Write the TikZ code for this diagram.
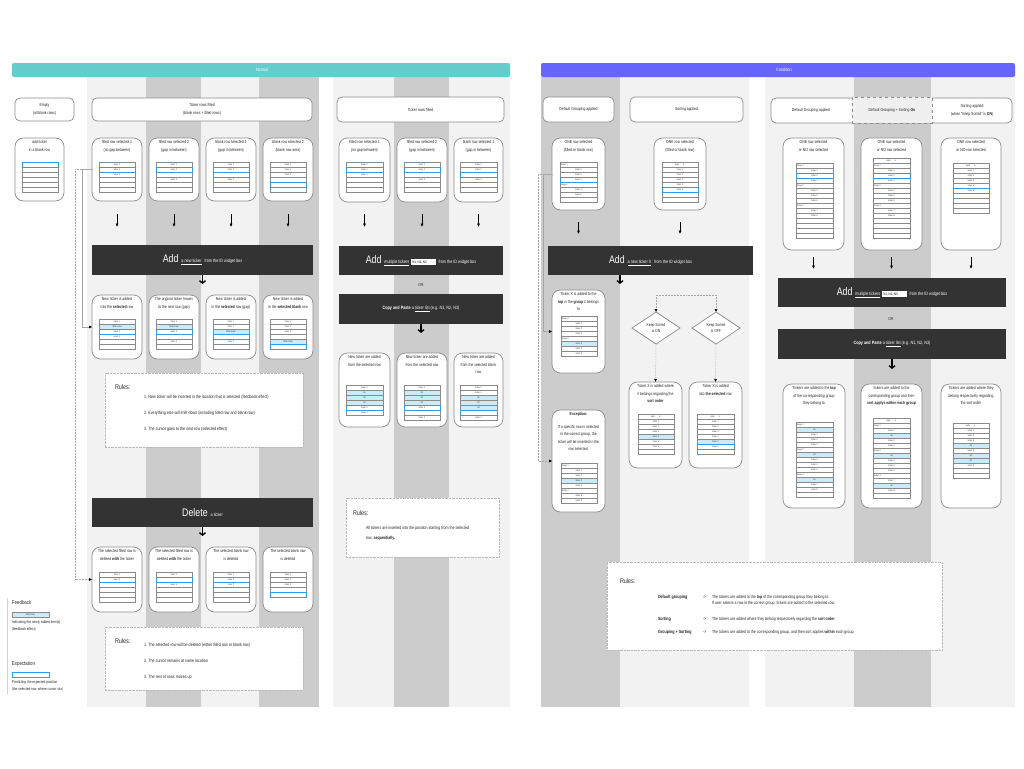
\documentclass[tikz,border=0pt]{standalone}
\usepackage{fontspec}
\setmainfont{Liberation Sans}[FakeStretch=0.8]
\newfontfamily\symfont{DejaVu Sans}
\usetikzlibrary{arrows.meta,calc,shapes.geometric}
\pgfdeclarelayer{fg}
\pgfsetlayers{main,fg}

\definecolor{hdrteal}{HTML}{66CCCC}
\definecolor{hdrviolet}{HTML}{6666FF}
\definecolor{stripelt}{HTML}{F2F2F2}
\definecolor{stripedk}{HTML}{CCCCCC}
\definecolor{barbg}{HTML}{333333}
\definecolor{cardline}{HTML}{8C8C8C}
\definecolor{rowline}{HTML}{8A8A8A}
\definecolor{selblue}{HTML}{2E9BF0}
\definecolor{newcyan}{HTML}{CCEBFA}
\definecolor{txt}{HTML}{262626}

\newcommand\fsz[2]{\fontsize{#1}{#2}\selectfont}
\newcommand\dn{{\symfont ↓}}
\newcommand\sorthdr{Ag\%\hspace{4pt}\dn}
\newcommand\bigword[1]{{\fsz{11}{11}#1}}
\newcommand\idbox{{\setlength\fboxsep{1.1pt}\colorbox{white}{\makebox[22pt][l]{\textcolor{black}{\fsz{3.6}{4}N1, N2, N3}}}}}

% mini ticker list: name, x, y, width, rows given as kind/label
% kinds: t ticker, b blank, s selected, n newly added, g group, h sort header
\newcommand\tickertable[5]{%
  \pgfmathsetmacro\tblw{#4-1.5}%
  \foreach \ty/\tx [count=\i] in {#5}{%
    \node[row, row\ty, text width=\tblw pt, anchor=north west] (#1-\i) at (#2,#3+5*\i-5) {\tx};
  }%
  \begin{pgfonlayer}{fg}%
    \foreach \ty/\tx [count=\i] in {#5}{%
      \if s\ty \draw[selrow] (#1-\i.north west) rectangle (#1-\i.south east);\fi
    }%
  \end{pgfonlayer}%
}

% rounded scenario card with its caption: name, x, y, width, height, caption
\newcommand\scard[6]{%
  \node[card, minimum width=#4, minimum height=#5, anchor=north west] (#1) at (#2,#3) {};
  \node[cardtext, anchor=north] (#1-txt) at ($(#1.north)+(0,2.3)$) {#6};
}

\begin{document}
\begin{tikzpicture}[x=1pt,y=-1pt,
  every node/.style={inner sep=0pt, outer sep=0pt},
  hdrbox/.style={draw=cardline, line width=0.7pt, rounded corners=5pt, fill=white, align=center, font=\fsz{4.3}{8}, text=txt},
  card/.style={draw=cardline, line width=0.7pt, rounded corners=8.5pt, fill=white},
  cardtext/.style={align=center, font=\fsz{4.3}{7.6}, text=txt},
  row/.style={draw=rowline, line width=0.3pt, fill=white, minimum height=5pt, inner xsep=0.75pt, align=center, font=\fsz{2.3}{2.4}, text=txt, text height=1.6pt, text depth=0.45pt},
  rowt/.style={}, rows/.style={}, rowb/.style={}, rowh/.style={},
  rown/.style={fill=newcyan},
  rowg/.style={align=left},
  selrow/.style={draw=selblue, line width=0.9pt},
  actbar/.style={fill=barbg, text=white, font=\fsz{4.7}{5}},
  rulesbox/.style={draw=gray!55, line width=0.4pt, densely dotted, fill=white},
  rulestitle/.style={font=\fsz{6.8}{7}, text=txt, anchor=west},
  ruleitem/.style={font=\fsz{4.6}{6}, text=txt, anchor=west, align=left},
  rulename/.style={font=\fsz{4.6}{6}\bfseries, text=txt, anchor=west},
  legendtitle/.style={font=\fsz{5.5}{6}, text=txt, anchor=west},
  legendtext/.style={font=\fsz{4}{7}, text=txt, anchor=north west, align=left},
  cardarrow/.style={line width=0.9pt, -{Latex[length=3.5pt,width=3.2pt]}},
  bararrow/.style={line width=1.3pt, -{Straight Barb[length=2.5pt,width=6pt]}},
  link/.style={draw=gray!70, line width=0.5pt, -{Latex[length=3pt,width=3pt,color=black]}},
  linkdot/.style={link, densely dotted},
  decision/.style={diamond, draw=cardline, line width=0.7pt, fill=white, minimum width=48pt, minimum height=32pt, align=center, font=\fsz{4.2}{6.5}, text=txt},
  orword/.style={font=\fsz{4.2}{5}, text=txt},
]
\useasboundingbox (0,0) rectangle (1024,768);
\fill[white] (0,0) rectangle (1024,768);

% ---------- column stripes ----------
\foreach \xa/\xb/\cl in {87/146/stripelt,146/201/stripedk,201/259/stripelt,259/319/stripedk,
  333/394/stripelt,394/449/stripedk,449/510/stripelt,
  541/620/stripedk,620/749/stripelt,
  765/854/stripelt,854/931/stripedk,931/1015/stripelt}
  \fill[\cl] (\xa,77) rectangle (\xb,707);

% ---------- section headers ----------
\node[fill=hdrteal, rounded corners=2pt, minimum width=498pt, minimum height=14pt, anchor=north west] (hNormal) at (12,63) {};
\node[text=white, font=\fsz{4.6}{5}] (hNormal-txt) at (262,70) {Normal};
\node[fill=hdrviolet, rounded corners=2pt, minimum width=474pt, minimum height=14pt, anchor=north west] (hCondition) at (541,63) {};
\node[text=white, font=\fsz{4.6}{5}] (hCondition-txt) at (784,70) {Condition};

% =================== NORMAL ===================
\node[hdrbox, minimum width=59pt, minimum height=23pt, anchor=north west] (hEmpty) at (15,98) {Empty\\(all blank rows)};
\node[hdrbox, minimum width=220pt, minimum height=23pt, anchor=north west] (hFilled) at (92,98) {Ticker rows filled\\(blank rows + filled rows)};

\scard{e0}{15}{138}{49}{63}{add ticker\\in a blank row}
\tickertable{e0r}{22}{162}{36}{s/{}, b/{}, b/{}, b/{}, b/{}, b/{}}

\scard{a1}{92}{138}{50}{63}{filled row selected 1\\(no gap between)}
\tickertable{a1r}{99}{162}{36}{t/ticker 1, s/ticker 2, t/ticker 3, b/{}, b/{}, b/{}}
\scard{a2}{149}{138}{50}{63}{filled row selected 2\\(gap in between)}
\tickertable{a2r}{156}{162}{36}{t/ticker 1, s/ticker 2, b/{}, t/ticker 3, b/{}, b/{}}
\scard{a3}{206}{138}{50}{63}{blank row selected 1\\(gap in between)}
\tickertable{a3r}{213}{162}{36}{t/ticker 1, t/ticker 2, s/{}, t/ticker 3, b/{}, b/{}}
\scard{a4}{263}{138}{50}{63}{blank row selected 2\\(blank row area)}
\tickertable{a4r}{270}{162}{36}{t/ticker 1, t/ticker 2, t/ticker 3, b/{}, s/{}, b/{}}

\foreach \n in {a1,a2,a3,a4}
  \draw[cardarrow] ($(\n.south)+(0,13)$) -- ($(\n.south)+(0,26)$);

\node[actbar, minimum width=221pt, minimum height=30pt, anchor=north west] (addN) at (92,245)
  {\bigword{Add}\hspace{3pt}\underline{a new ticker}\hspace{2pt} from the ID widget box};
\draw[bararrow] (addN.south) -- ($(addN.south)+(0,9)$);

\scard{b1}{92}{295}{50}{64}{New ticker is added\\into the \textbf{selected} row}
\tickertable{b1r}{99}{319}{36}{t/ticker 1, n/NEW ticker, s/ticker 2, t/ticker 3, b/{}, b/{}}
\scard{b2}{149}{295}{50}{64}{The original ticker moves\\to the next row (gap)}
\tickertable{b2r}{156}{319}{36}{t/ticker 1, n/NEW ticker, s/ticker 2, b/{}, t/ticker 3, b/{}}
\scard{b3}{206}{295}{50}{64}{New ticker is added\\in the \textbf{selected} row (gap)}
\tickertable{b3r}{213}{319}{36}{t/ticker 1, t/ticker 2, n/NEW ticker, s/{}, t/ticker 3, b/{}}
\scard{b4}{263}{295}{50}{64}{New ticker is added\\in the \textbf{selected blank} row}
\tickertable{b4r}{270}{319}{36}{t/ticker 1, t/ticker 2, t/ticker 3, b/{}, n/NEW ticker, s/{}}

\node[rulesbox, minimum width=198pt, minimum height=74pt, anchor=north west] (rules1) at (105,373) {};
\node[rulestitle] (rules1-h) at (115,387) {Rules:};
\node[ruleitem] (rules1-a) at (144,397) {1. New ticker will be inserted in the location that is selected (feedback effect)};
\node[ruleitem] (rules1-b) at (144,413) {2. Everything else will shift down (including filled row and blank row)};
\node[ruleitem] (rules1-c) at (144,429) {3. The cursor goes to the next row (selected effect)};

\node[actbar, minimum width=221pt, minimum height=29pt, anchor=north west] (delN) at (92,498)
  {\bigword{Delete}\hspace{3pt}a ticker};
\draw[bararrow] (delN.south) -- ($(delN.south)+(0,9)$);

\scard{d1}{92}{547}{50}{65}{The selected filled row is\\deleted \textbf{with} the ticker}
\tickertable{d1r}{99}{572}{36}{t/ticker 1, s/ticker 3, b/{}, b/{}, b/{}, b/{}}
\scard{d2}{149}{547}{50}{65}{The selected filled row is\\deleted \textbf{with} the ticker}
\tickertable{d2r}{156}{572}{36}{t/ticker 1, s/{}, t/ticker 3, b/{}, b/{}, b/{}}
\scard{d3}{206}{547}{50}{65}{The selected blank row\\is deleted}
\tickertable{d3r}{213}{572}{36}{t/ticker 1, t/ticker 2, s/ticker 3, b/{}, b/{}, b/{}}
\scard{d4}{263}{547}{50}{65}{The selected blank row\\is deleted}
\tickertable{d4r}{270}{572}{36}{t/ticker 1, t/ticker 2, t/ticker 3, b/{}, s/{}}

\node[rulesbox, minimum width=198pt, minimum height=63pt, anchor=north west] (rules2) at (105,627) {};
\node[rulestitle] (rules2-h) at (115,641) {Rules:};
\node[ruleitem] (rules2-a) at (144,645) {1. The selected row will be deleted (either filled row or blank row)};
\node[ruleitem] (rules2-b) at (144,661) {2. The cursor remains at same location};
\node[ruleitem] (rules2-c) at (144,677) {3. The rest of rows moves up};

% links from the first scenario to its results
\coordinate (k1) at (82,0);
\coordinate (k2) at (75,0);
\draw[link] (a1.west) -- (a1.west -| k1) -- (b1.west -| k1) -- (b1.west);
\draw[linkdot] (a1.west) -- (a1.west -| k2) -- (d1.west -| k2) -- (d1.west);

% legend
\draw[gray!35, line width=0.5pt] (7,598) -- (7,694);
\node[legendtitle] (lgFeed) at (12,603) {Feedback};
\node[row, rown, minimum width=37pt, anchor=north west] (lgNew) at (12,612) {NEW ticker};
\node[legendtext] (lgFeed-txt) at (12,621) {Indicating the newly added item(s)\\(feedback effect)};
\node[legendtitle] (lgExp) at (12,664) {Expectation};
\node[row, minimum width=37pt, anchor=north west] (lgSel) at (12,672) {};
\draw[selrow] (lgSel.north west) rectangle (lgSel.south east);
\node[legendtext] (lgExp-txt) at (12,681) {Predicting the expected position\\(the selected row, where cursor sits)};

% =================== NORMAL, multiple tickers ===================
\node[hdrbox, minimum width=167pt, minimum height=25pt, anchor=north west] (hMulti) at (337,97) {Ticker rows filled};

\scard{m1}{339}{138}{51}{64}{filled row selected 1\\(no gap between)}
\tickertable{m1r}{346}{162}{37}{t/ticker 1, s/ticker 2, t/ticker 3, b/{}, b/{}, b/{}}
\scard{m2}{397}{138}{50}{64}{filled row selected 2\\(gap in between)}
\tickertable{m2r}{404}{162}{36}{t/ticker 1, s/ticker 2, b/{}, t/ticker 3, b/{}, b/{}}
\scard{m3}{454}{138}{49}{64}{blank row selected 1\\(gap in between)}
\tickertable{m3r}{460}{162}{37}{t/ticker 1, t/ticker 2, s/{}, t/ticker 3, b/{}, b/{}}
\foreach \n in {m1,m2,m3}
  \draw[cardarrow] ($(\n.south)+(0,12)$) -- ($(\n.south)+(0,25)$);

\node[actbar, minimum width=164pt, minimum height=29pt, anchor=north west] (addM) at (339,246)
  {\bigword{Add}\hspace{3pt}\underline{multiple tickers}\hspace{2pt}\idbox\hspace{2pt} from the ID widget box};
\node[orword] (orM) at (421,285) {OR};
\node[actbar, minimum width=164pt, minimum height=30pt, anchor=north west] (copyM) at (339,294)
  {\textbf{Copy and Paste} a \underline{ticker list} (e.g. N1, N2, N3)};
\draw[bararrow] (copyM.south) -- ($(copyM.south)+(0,9)$);

\scard{r1}{339}{353}{51}{74}{New ticker are added\\from the selected row}
\tickertable{r1r}{346}{385}{37}{t/ticker 1, n/N1, n/N2, n/N3, s/ticker 2, t/ticker 3}
\scard{r2}{397}{353}{50}{74}{New ticker are added\\from the selected row}
\tickertable{r2r}{404}{385}{36}{t/ticker 1, n/N1, n/N2, n/N3, s/ticker 2, b/{}, t/ticker 3}
\scard{r3}{454}{353}{49}{74}{New ticker are added\\from the selected blank\\row}
\tickertable{r3r}{460}{385}{37}{t/ticker 1, t/ticker 2, n/N1, n/N2, n/N3, s/{}, t/ticker 3}

\node[rulesbox, minimum width=153pt, minimum height=59pt, anchor=north west] (rules3) at (346,498) {};
\node[rulestitle] (rules3-h) at (353,513) {Rules:};
\node[ruleitem, font=\fsz{4.5}{10}] (rules3-a) at (366,533) {All tickers are inserted into the position starting from the selected\\row, \textbf{sequentially.}};

% =================== CONDITION, single ticker ===================
\node[hdrbox, minimum width=71pt, minimum height=25pt, anchor=north west] (hGroup) at (543,97) {Default Grouping applied};
\node[hdrbox, minimum width=113pt, minimum height=25pt, anchor=north west] (hSort) at (630,97) {Sorting applied};

\scard{g1}{552}{138}{53}{72}{ONE row selected\\(filled or blank row)}
\tickertable{g1r}{560}{162}{37}{g/Group 1, t/ticker 1, t/ticker 2, s/ticker 3, g/Group 2, t/ticker 4, t/ticker 5, b/{}}
\scard{s1}{654}{138}{52}{72}{ONE row selected\\(filled or blank row)}
\tickertable{s1r}{662}{162}{36}{h/\sorthdr, t/ticker 1, t/ticker 2, t/ticker 3, t/ticker 4, s/ticker 5, b/{}, b/{}}
\foreach \n in {g1,s1}
  \draw[cardarrow] ($(\n.south)+(0,12)$) -- ($(\n.south)+(0,24)$);

\node[actbar, minimum width=205pt, minimum height=29pt, anchor=north west] (addG) at (548,246)
  {\bigword{Add}\hspace{3pt}\underline{a new ticker X}\hspace{2pt} from the ID widget box};
\draw[bararrow] ($(addG.south west)+(72,0)$) -- ($(addG.south west)+(72,9)$);

\scard{g2}{552}{290}{53}{83}{Ticker X is added to the\\\textbf{top} in the \textbf{group} it belongs\\to}
\tickertable{g2r}{561}{316}{36}{g/Group 1, t/ticker 1, t/ticker 2, t/ticker 3, g/Group 2, n/ticker X, t/ticker 4, t/ticker 5}
\scard{ex}{552}{410}{53}{102}{\textbf{Exception:}\\[5pt]If a specific row is selected\\in the correct group, the\\ticker will be inserted in the\\row selected.}
\tickertable{exr}{561}{463}{36}{g/Group 1, t/ticker 1, t/ticker 2, n/ticker X, t/ticker 3, g/Group 2, t/ticker 4, t/ticker 5}

\coordinate (k3) at (543,0);
\coordinate (k4) at (538,0);
\draw[link] (g1.west) -- (g1.west -| k3) -- (g2.west -| k3) -- (g2.west);
\draw[linkdot] (g1.west) -- (g1.west -| k4) -- (ex.west -| k4) -- (ex.west);

\node[decision] (kson) at (656,328) {Keep Sorted\\is ON};
\node[decision] (ksoff) at (716,328) {Keep Sorted\\is OFF};
\coordinate (fork) at (686,295);
\draw[linkdot] (fork) -| (kson.north);
\draw[linkdot] (fork) -| (ksoff.north);

\scard{so}{629}{382}{53}{86}{Ticker X is added where\\it belongs regarding the\\\textbf{sort order}}
\tickertable{sor}{638}{414}{36}{h/\sorthdr, t/ticker 1, t/ticker 2, t/ticker 3, n/ticker X, t/ticker 4, t/ticker 5, b/{}}
\scard{sf}{689}{382}{53}{86}{Ticker X is added\\into \textbf{the selected} row}
\tickertable{sfr}{697}{414}{37}{h/\sorthdr, t/ticker 1, t/ticker 2, t/ticker 3, t/ticker 4, n/ticker X, s/ticker 5, b/{}}
\draw[linkdot] (kson.south) -- (so.north);
\draw[linkdot] (ksoff.south) -- (sf.north);

% =================== CONDITION, multiple tickers ===================
\node[hdrbox, minimum width=241pt, minimum height=25pt, anchor=north west] (hCond) at (771,98) {};
\node[font=\fsz{4.3}{8}, text=txt] (hCond-a) at (811,110.5) {Default Grouping applied};
\node[draw=cardline, line width=0.6pt, dashed, fill=gray!12, minimum width=80pt, minimum height=26pt, anchor=north west, font=\fsz{4.3}{8}, text=txt] (hCond-b) at (852,97) {Default Grouping + Sorting \textbf{On}};
\node[font=\fsz{4.3}{8}, text=txt, align=center] (hCond-c) at (972,110.5) {Sorting applied\\(when "Keep Sorted" is \textbf{ON})};

\scard{c1}{783}{138}{61}{112}{ONE row selected\\or NO row selected}
\tickertable{c1r}{796}{163}{37}{g/Group 1, t/ticker 1, s/ticker 2, t/ticker 3, g/Group 2, t/ticker 4, t/ticker 5, t/ticker 6, g/Group 3, t/ticker 7, t/ticker 8, b/{}, b/{}, b/{}, b/{}}
\scard{c2}{861}{138}{61}{112}{ONE row selected\\or NO row selected}
\tickertable{c2r}{873}{158}{37}{h/\sorthdr, g/Group 1, t/ticker 1, s/ticker 2, t/ticker 3, g/Group 2, t/ticker 4, t/ticker 5, t/ticker 6, g/Group 3, t/ticker 7, t/ticker 8, b/{}, b/{}, b/{}, b/{}}
\scard{c3}{941}{138}{60}{112}{ONE row selected\\or NO row selected}
\tickertable{c3r}{953}{163}{36}{h/\sorthdr, t/ticker 1, t/ticker 2, t/ticker 3, t/ticker 4, s/ticker 5, b/{}, b/{}, b/{}, b/{}}
\foreach \n in {c1,c2,c3}
  \draw[cardarrow] ($(\n.south)+(0,7)$) -- ($(\n.south)+(0,19)$);

\node[actbar, minimum width=228pt, minimum height=29pt, anchor=north west] (addC) at (778,278)
  {\bigword{Add}\hspace{3pt}\underline{multiple tickers}\hspace{2pt}\idbox\hspace{2pt} from the ID widget box};
\node[orword] (orC) at (891,319) {OR};
\node[actbar, minimum width=228pt, minimum height=30pt, anchor=north west] (copyC) at (778,329)
  {\textbf{Copy and Paste} a \underline{ticker list} (e.g. N1, N2, N3)};
\draw[bararrow] (copyC.south) -- ($(copyC.south)+(0,10)$);

\scard{f1}{783}{384}{62}{124}{Tickers are added to the \textbf{top}\\of the corresponding group\\they belong to}
\tickertable{f1r}{796}{422}{37}{g/Group 1, n/N2, t/ticker 1, t/ticker 2, t/ticker 3, g/Group 2, n/N3, t/ticker 4, t/ticker 5, t/ticker 6, g/Group 3, n/N1, t/ticker 7, t/ticker 8, b/{}}
\scard{f2}{861}{384}{61}{124}{tickers are added to the\\corresponding group and then\\\textbf{sort applys within each group}}
\tickertable{f2r}{873}{418}{37}{h/\sorthdr, g/Group 1, t/ticker 1, n/N2, t/ticker 2, t/ticker 3, g/Group 2, n/N3, t/ticker 4, t/ticker 5, t/ticker 6, g/Group 3, t/ticker 7, n/N1, t/ticker 8, b/{}}
\scard{f3}{941}{384}{60}{124}{Tickers are added where they\\belong respectively regarding\\the sort order}
\tickertable{f3r}{953}{423}{36}{h/\sorthdr, t/ticker 1, t/ticker 2, t/ticker 3, n/N2, t/ticker 4, n/N3, n/N1, t/ticker 5, b/{}, b/{}}

% rules for the condition columns
\node[rulesbox, minimum width=335pt, minimum height=88pt, anchor=north west] (rules4) at (607,562) {};
\node[rulestitle] (rules4-h) at (620,581) {Rules:};
\node[rulename] (rules4-n1) at (658,597.3) {Default grouping};
\node[ruleitem] (rules4-a1) at (703,597.3) {->};
\node[ruleitem, font=\fsz{4.4}{6}] (rules4-t1) at (712,600.3) {The tickers are added to the \textbf{top} of the corresponding group they belong to.\\If user selects a row in the correct group, tickers are added to the selected row.};
\node[rulename] (rules4-n2) at (658,619) {Sorting};
\node[ruleitem] (rules4-a2) at (703,619) {->};
\node[ruleitem, font=\fsz{4.4}{6}] (rules4-t2) at (712,619) {The tickers are added where they belong respectively regarding the \textbf{sort order}.};
\node[rulename] (rules4-n3) at (658,632.3) {Grouping + Sorting};
\node[ruleitem] (rules4-a3) at (703,632.3) {->};
\node[ruleitem, font=\fsz{4.4}{6}] (rules4-t3) at (712,632.3) {The tickers are added to the corresponding group, and then sort applies \textbf{within} each group.};
\end{tikzpicture}
\end{document}
